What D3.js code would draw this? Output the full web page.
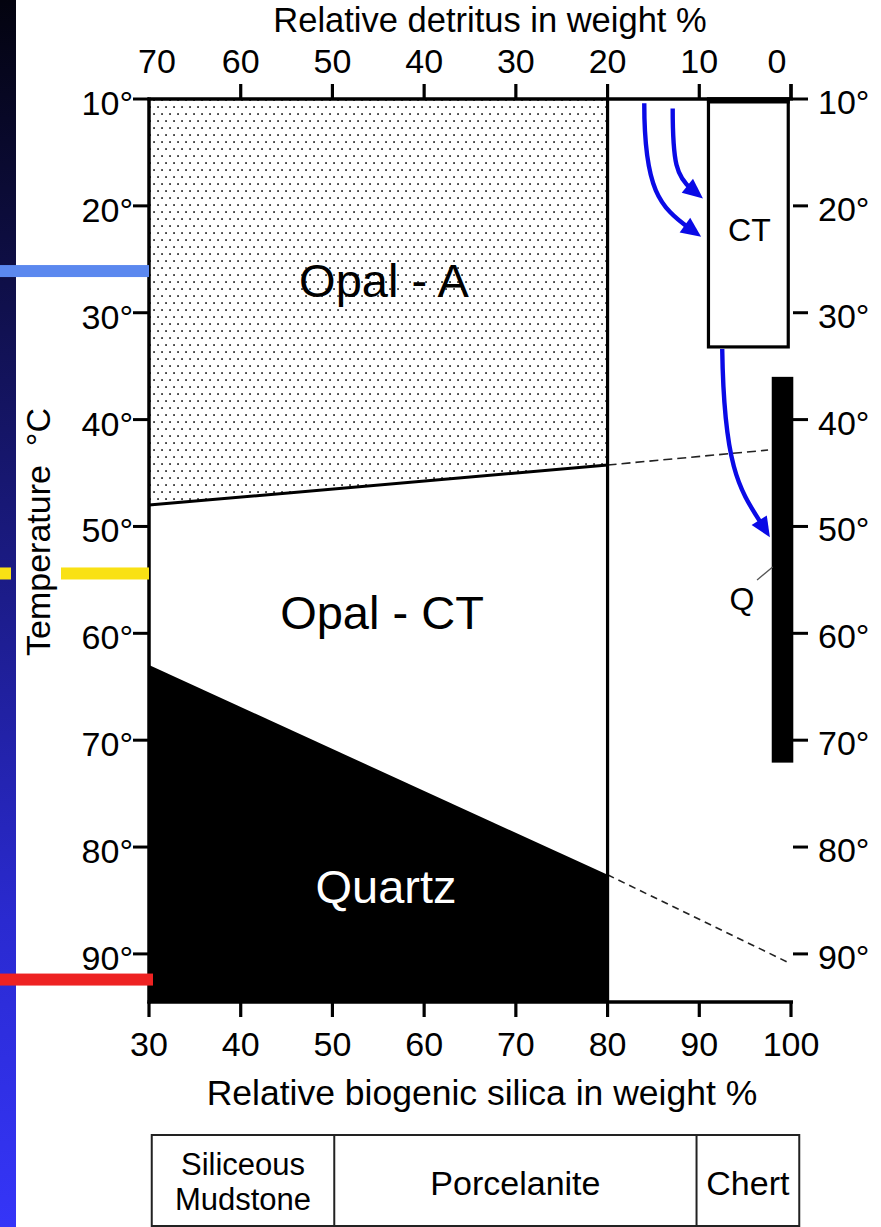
<!DOCTYPE html>
<html>
<head>
<meta charset="utf-8">
<script src="https://cdn.jsdelivr.net/npm/d3@7"></script>
<style>
  html, body { margin: 0; padding: 0; background: #ffffff; }
  svg { display: block; }
  text { font-family: "Liberation Sans", Arial, Helvetica, sans-serif; fill: #000; }
</style>
</head>
<body>
<div id="chart"></div>
<script>
// ---- data -------------------------------------------------------------
const silicaTicks   = [30, 40, 50, 60, 70, 80, 90, 100];
const detritusTicks = [70, 60, 50, 40, 30, 20, 10, 0];
const tempTicks     = [10, 20, 30, 40, 50, 60, 70, 80, 90];

// phase boundaries: [biogenic silica %, temperature °C]
const opalABoundary       = [[30, 48.0], [80, 44.25]];
const opalABoundaryDashed = [[80, 44.25], [97.5, 42.85]];
const quartzBoundary       = [[30, 62.97], [80, 82.6]];
const quartzBoundaryDashed = [[80, 82.6], [99.7, 90.8]];
const detritusLimit = 80;          // vertical divider (silica %)

// chert column: CT interval and Q interval
const ctSilica = [91, 99.7];
const ctTemp   = [10, 33.2];
const qSilica  = [97.9, 100.25];
const qTemp    = [36.0, 72.1];
const qLeader  = [[96.3, 55.0], [98.0, 53.8]];

// transformation arrows (cubic control points, silica % / °C)
const arrowCurves = [
  [[84.0, 10.4], [84.0, 18.5], [85.7, 20.1], [90.2, 22.9]],
  [[87.1, 10.9], [87.1, 16.0], [87.5, 17.3], [90.4, 19.3]],
  [[92.5, 33.4], [92.7, 44.7], [94.45, 46.6], [97.7, 51.0]]
];

// coloured temperature markers on the left margin
const markerTemps  = [26.1, 54.4, 92.4];
const markerColors = ["#5b88ef", "#f9e114", "#ee2222"];

// lithology table below the plot
const lithNames  = [["Siliceous", "Mudstone"], ["Porcelanite"], ["Chert"]];
const lithBounds = [30.3, 50.2, 89.7, 100.9];

// ---- layout -----------------------------------------------------------
const W = 881, H = 1227;
const x = d3.scaleLinear().domain([30, 100]).range([149, 791]);
const xTop = d3.scaleLinear().domain([70, 0]).range([149, 791]);
const y = d3.scaleLinear().domain([10, 94.5]).range([99, 1002]);
const FS = 34;
const TITLE_FS = 35.5;

const svg = d3.select("#chart").append("svg")
  .attr("width", W).attr("height", H);

const defs = svg.append("defs");
const grad = defs.append("linearGradient").attr("id", "stripGrad")
  .attr("x1", 0).attr("y1", 0).attr("x2", 0).attr("y2", 1);
[[0, "#03030f"], [0.25, "#10104d"], [0.45, "#1a1a80"], [0.75, "#2a2ad0"], [1, "#3535f8"]]
  .forEach(([o, c]) => grad.append("stop").attr("offset", o).attr("stop-color", c));

const pat = defs.append("pattern").attr("id", "stipple")
  .attr("patternUnits", "userSpaceOnUse").attr("width", 8).attr("height", 14);
pat.append("rect").attr("width", 8).attr("height", 14).attr("fill", "#fff");
pat.append("rect").attr("x", 1.2).attr("y", 1.2).attr("width", 1.7).attr("height", 1.7).attr("fill", "#1a1a1a");
pat.append("rect").attr("x", 5.2).attr("y", 8.2).attr("width", 1.7).attr("height", 1.7).attr("fill", "#1a1a1a");

// left decorative strip
svg.append("rect").attr("x", 0).attr("y", 0).attr("width", 16).attr("height", H)
  .attr("fill", "url(#stripGrad)");

// ---- phase fields -----------------------------------------------------
const [x0, x1] = x.range();
const [yTop, yBot] = y.range();

// Opal-A (stippled)
svg.append("path")
  .attr("d", d3.line()([
    [x(30), yTop], [x(detritusLimit), yTop],
    [x(opalABoundary[1][0]), y(opalABoundary[1][1])],
    [x(opalABoundary[0][0]), y(opalABoundary[0][1])]
  ]) + "Z")
  .attr("fill", "url(#stipple)");

// Quartz (solid)
svg.append("path")
  .attr("d", d3.line()([
    [x(quartzBoundary[0][0]), y(quartzBoundary[0][1])],
    [x(quartzBoundary[1][0]), y(quartzBoundary[1][1])],
    [x(detritusLimit), yBot], [x(30), yBot]
  ]) + "Z")
  .attr("fill", "#000");

const line = d3.line().x(d => x(d[0])).y(d => y(d[1]));

svg.append("path").attr("d", line(opalABoundary))
  .attr("fill", "none").attr("stroke", "#000").attr("stroke-width", 3);
svg.append("path").attr("d", line(opalABoundaryDashed))
  .attr("fill", "none").attr("stroke", "#222").attr("stroke-width", 1.6)
  .attr("stroke-dasharray", "9,5");
svg.append("path").attr("d", line(quartzBoundaryDashed))
  .attr("fill", "none").attr("stroke", "#222").attr("stroke-width", 1.6)
  .attr("stroke-dasharray", "7,5");

// vertical divider at 80 % silica
svg.append("line")
  .attr("x1", x(detritusLimit)).attr("x2", x(detritusLimit))
  .attr("y1", yTop).attr("y2", yBot)
  .attr("stroke", "#000").attr("stroke-width", 3.2);

// ---- axes -------------------------------------------------------------
// bottom (biogenic silica)
const gB = svg.append("g").attr("transform", `translate(0,${yBot})`);
gB.append("line").attr("x1", x0 - 1.5).attr("x2", x1 + 2).attr("stroke", "#000").attr("stroke-width", 3.5);
gB.selectAll(".t").data(silicaTicks).join("line")
  .attr("x1", d => x(d)).attr("x2", d => x(d)).attr("y1", 0).attr("y2", 15)
  .attr("stroke", "#000").attr("stroke-width", 3.2);
gB.selectAll("text").data(silicaTicks).join("text")
  .attr("x", d => x(d)).attr("y", 54).attr("text-anchor", "middle")
  .attr("font-size", FS).text(d => d);

// top (detritus)
const gT = svg.append("g").attr("transform", `translate(0,${yTop})`);
gT.append("line").attr("x1", x0 - 1.5).attr("x2", x1 + 2).attr("stroke", "#000").attr("stroke-width", 3.5);
gT.selectAll(".t").data(detritusTicks.slice(1)).join("line")
  .attr("x1", d => xTop(d)).attr("x2", d => xTop(d)).attr("y1", 0).attr("y2", -15)
  .attr("stroke", "#000").attr("stroke-width", 3.2);
gT.selectAll("text").data(detritusTicks).join("text")
  .attr("x", (d, i) => xTop(d) + (i === 0 ? 8 : i === detritusTicks.length - 1 ? -14 : 0))
  .attr("y", -26).attr("text-anchor", "middle")
  .attr("font-size", FS).text(d => d);

// left (temperature)
const gL = svg.append("g").attr("transform", `translate(${x0},0)`);
gL.append("line").attr("y1", yTop - 1.5).attr("y2", yBot + 1.5).attr("stroke", "#000").attr("stroke-width", 3.5);
gL.selectAll(".t").data(tempTicks).join("line")
  .attr("x1", -16).attr("x2", 0).attr("y1", d => y(d)).attr("y2", d => y(d))
  .attr("stroke", "#000").attr("stroke-width", 3);
gL.selectAll("text").data(tempTicks).join("text")
  .attr("x", -16).attr("y", d => y(d) + 16).attr("text-anchor", "end")
  .attr("font-size", FS).text(d => d + "°");

// right (temperature ticks only)
const gR = svg.append("g").attr("transform", `translate(${x1 + 2},0)`);
gR.selectAll(".t").data(tempTicks).join("line")
  .attr("x1", 0).attr("x2", 15).attr("y1", d => y(d)).attr("y2", d => y(d))
  .attr("stroke", "#000").attr("stroke-width", 3);
svg.append("line").attr("x1", x1).attr("x2", x1).attr("y1", yTop).attr("y2", yTop - 15)
  .attr("stroke", "#000").attr("stroke-width", 3.2);
gR.selectAll("text").data(tempTicks).join("text")
  .attr("x", 25).attr("y", d => y(d) + 15).attr("text-anchor", "start")
  .attr("font-size", FS).text(d => d + "°");

// axis titles
svg.append("text").attr("x", 490).attr("y", 32).attr("text-anchor", "middle")
  .attr("font-size", 34.5).text("Relative detritus in weight %");
svg.append("text").attr("x", 482).attr("y", 1105).attr("text-anchor", "middle")
  .attr("font-size", TITLE_FS).text("Relative biogenic silica in weight %");
svg.append("text").attr("transform", `translate(50,532) rotate(-90)`)
  .attr("text-anchor", "middle").attr("font-size", FS)
  .attr("xml:space", "preserve").text("Temperature  °C");

// ---- chert column: CT box and Q bar ------------------------------------
svg.append("rect")
  .attr("x", x(ctSilica[0])).attr("y", y(ctTemp[0]))
  .attr("width", x(ctSilica[1]) - x(ctSilica[0]))
  .attr("height", y(ctTemp[1]) - y(ctTemp[0]))
  .attr("fill", "#fff").attr("stroke", "#000").attr("stroke-width", 3.2);
svg.append("line")
  .attr("x1", x(ctSilica[0]) - 1.5).attr("x2", x(ctSilica[1]) + 1.5)
  .attr("y1", y(ctTemp[0]) + 1.5).attr("y2", y(ctTemp[0]) + 1.5)
  .attr("stroke", "#000").attr("stroke-width", 6);
svg.append("text")
  .attr("x", (x(ctSilica[0]) + x(ctSilica[1])) / 2 + 1)
  .attr("y", 241).attr("text-anchor", "middle")
  .attr("font-size", 32).text("CT");

svg.append("rect")
  .attr("x", x(qSilica[0])).attr("y", y(qTemp[0]))
  .attr("width", x(qSilica[1]) - x(qSilica[0]))
  .attr("height", y(qTemp[1]) - y(qTemp[0]))
  .attr("fill", "#000");
svg.append("path").attr("d", line(qLeader))
  .attr("stroke", "#555").attr("stroke-width", 1.3).attr("fill", "none");
svg.append("text").attr("x", 742).attr("y", 610).attr("text-anchor", "middle")
  .attr("font-size", 32).text("Q");

// ---- arrows ------------------------------------------------------------
const arrowColor = "#0a0ae6";
arrowCurves.forEach(pts => {
  const p = pts.map(d => [x(d[0]), y(d[1])]);
  const tip = p[3];
  const dx = p[3][0] - p[2][0], dy = p[3][1] - p[2][1];
  const len = Math.hypot(dx, dy);
  const ux = dx / len, uy = dy / len;
  const headL = 20, headW = 9;
  const base = [tip[0] - ux * headL, tip[1] - uy * headL];
  const end = [tip[0] - ux * headL * 0.7, tip[1] - uy * headL * 0.7];
  const path = d3.path();
  path.moveTo(p[0][0], p[0][1]);
  path.bezierCurveTo(p[1][0], p[1][1], p[2][0], p[2][1], end[0], end[1]);
  svg.append("path").attr("d", path.toString())
    .attr("fill", "none").attr("stroke", arrowColor).attr("stroke-width", 4.4);
  svg.append("path")
    .attr("d", d3.line()([
      tip,
      [base[0] - uy * headW, base[1] + ux * headW],
      [base[0] + uy * headW, base[1] - ux * headW]
    ]) + "Z")
    .attr("fill", arrowColor);
});

// ---- field labels ------------------------------------------------------
svg.append("text").attr("x", 384).attr("y", 297).attr("text-anchor", "middle")
  .attr("font-size", 47).text("Opal - A");
svg.append("text").attr("x", 382).attr("y", 629).attr("text-anchor", "middle")
  .attr("font-size", 47).text("Opal - CT");
svg.append("text").attr("x", 386).attr("y", 903).attr("text-anchor", "middle")
  .attr("font-size", 47).style("fill", "#fff").text("Quartz");

// ---- coloured temperature markers --------------------------------------
markerTemps.forEach((t, i) => {
  const yy = y(t);
  const c = markerColors[i];
  if (i === 1) {
    svg.append("rect").attr("x", 0).attr("y", yy - 6).attr("width", 11).attr("height", 12).attr("fill", c);
    svg.append("rect").attr("x", 61).attr("y", yy - 6).attr("width", x0 - 61).attr("height", 12).attr("fill", c);
  } else {
    svg.append("rect").attr("x", 0).attr("y", yy - 6).attr("width", x0 + (i === 2 ? 4 : 0)).attr("height", 12).attr("fill", c);
  }
});

// ---- lithology table ---------------------------------------------------
const tTop = 1135, tBot = 1226;
const gTab = svg.append("g");
gTab.append("rect")
  .attr("x", x(lithBounds[0])).attr("y", tTop)
  .attr("width", x(lithBounds[3]) - x(lithBounds[0])).attr("height", tBot - tTop)
  .attr("fill", "none").attr("stroke", "#222").attr("stroke-width", 2);
gTab.selectAll(".div").data(lithBounds.slice(1, 3)).join("line")
  .attr("x1", d => x(d)).attr("x2", d => x(d)).attr("y1", tTop).attr("y2", tBot)
  .attr("stroke", "#222").attr("stroke-width", 2);
lithNames.forEach((lines, i) => {
  const cx = (x(lithBounds[i]) + x(lithBounds[i + 1])) / 2;
  const t = gTab.append("text").attr("text-anchor", "middle").attr("font-size", FS);
  if (lines.length === 2) {
    t.attr("font-size", 31);
    t.append("tspan").attr("x", cx).attr("y", 1175).text(lines[0]);
    t.append("tspan").attr("x", cx).attr("y", 1210).text(lines[1]);
  } else {
    t.append("tspan").attr("x", cx).attr("y", 1195).text(lines[0]);
  }
});
</script>
</body>
</html>
